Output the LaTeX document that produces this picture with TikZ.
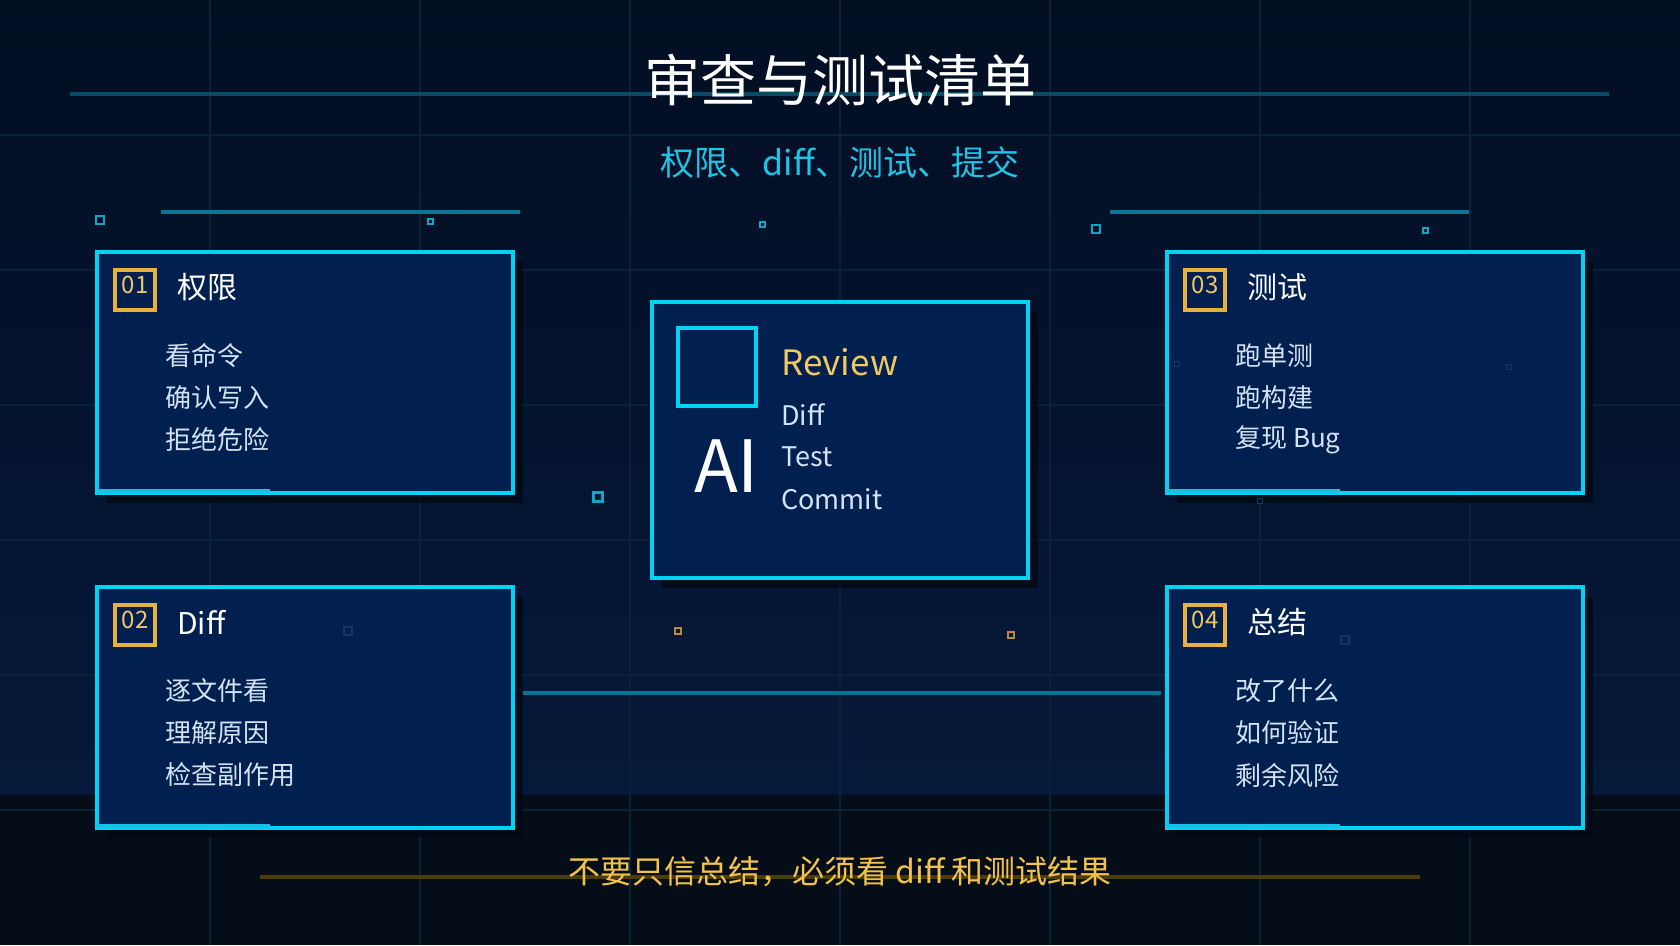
\documentclass[tikz,border=0pt]{standalone}
\usepackage{fontspec}
\setmainfont{Noto Sans CJK SC}
\usetikzlibrary{positioning,calc,shadows}

\definecolor{bgtop}{HTML}{020E22}
\definecolor{bgmid}{HTML}{05193A}
\definecolor{bgband}{HTML}{050E18}
\definecolor{gridc}{HTML}{0A2238}
\definecolor{cardfill}{HTML}{012050}
\definecolor{cardline}{HTML}{00D4F4}
\definecolor{accentc}{HTML}{16C2E4}
\definecolor{gold}{HTML}{E8B040}
\definecolor{goldtxt}{HTML}{F0C862}
\definecolor{itemc}{HTML}{D4E3F4}
\definecolor{subc}{HTML}{1EC4E6}
\definecolor{tline}{HTML}{0A4B64}
\definecolor{dline}{HTML}{0A7592}
\definecolor{fline}{HTML}{4B3C0A}
\definecolor{foot}{HTML}{F2C24C}
\definecolor{shade}{HTML}{010813}
\definecolor{sqc}{HTML}{12A6C6}
\definecolor{sqdim}{HTML}{17355F}

\tikzset{
  card/.style={draw=cardline, line width=3.5pt, fill=cardfill, inner sep=0pt, outer sep=0pt, anchor=north west,
    drop shadow={shadow xshift=10pt, shadow yshift=-10pt, fill=shade, opacity=0.75}},
  numbox/.style={draw=gold, line width=3.5pt, minimum size=40pt, inner sep=0pt, outer sep=0pt, anchor=north west},
  numtxt/.style={text=goldtxt, font=\fontsize{24}{28}\selectfont, inner sep=0pt, anchor=north},
  head/.style={text=white, font=\fontsize{30}{34}\selectfont, inner sep=0pt, anchor=west},
  item/.style={text=itemc, font=\fontsize{26}{30}\selectfont, inner sep=0pt, anchor=west},
  coreitem/.style={text=itemc, font=\fontsize{27}{30}\selectfont, inner sep=0pt, anchor=base west},
  dotsq/.style={draw=sqc, line width=2.5pt},
  dimsq/.style={draw=sqdim, line width=1.5pt},
  golddot/.style={draw=gold!80!black, line width=2pt}
}

\begin{document}
\begin{tikzpicture}[x=1pt,y=-1pt]
\useasboundingbox (0,0) rectangle (1680,945);
% background
\shade[top color=bgtop, bottom color=bgmid] (0,0) rectangle (1680,795);
\fill[bgband] (0,795) rectangle (1680,945);
\foreach \gx in {210,420,...,1470} { \draw[gridc, line width=1.2pt] (\gx,0) -- (\gx,945); }
\foreach \gy in {135,270,...,810} { \draw[gridc, line width=1.2pt] (0,\gy) -- (1680,\gy); }

% title
\draw[tline, line width=4pt] (70,94) -- (1609,94);
\node[text=white, font=\fontsize{56}{64}\selectfont, inner sep=0pt] (title) at (840,80) {审查与测试清单};
\node[text=subc, font=\fontsize{34}{40}\selectfont, inner sep=0pt] (subtitle) at (840,163) {权限、diff、测试、提交};

% deco lines and squares
\draw[dline, line width=4pt] (161,212) -- (520,212);
\draw[dline, line width=4pt] (1110,212) -- (1469,212);
\foreach \sx/\sy/\ss in {100/220/8, 1096/229/8, 598/497/9} { \draw[dotsq] ({\sx-\ss/2},{\sy-\ss/2}) rectangle ++(\ss,\ss); }
\foreach \sx/\sy/\ss in {430/221/5, 762/224/5, 1425/230/5} { \draw[dotsq, line width=2pt] ({\sx-\ss/2},{\sy-\ss/2}) rectangle ++(\ss,\ss); }
\foreach \sx/\sy in {678/631, 1011/635} { \draw[golddot] ({\sx-3},{\sy-3}) rectangle ++(6,6); }

% the four cards
\foreach \k/\cx/\cy/\num/\hd/\ia/\ib/\ic in {
  1/97/252/01/权限/看命令/确认写入/拒绝危险,
  2/97/587/02/Diff/逐文件看/理解原因/检查副作用,
  3/1167/252/03/测试/跑单测/跑构建/复现 Bug,
  4/1167/587/04/总结/改了什么/如何验证/剩余风险} {
  \node[card, minimum width=416pt, minimum height=241pt] (c\k) at (\cx,\cy) {};
  \fill[accentc] ($(c\k.south west)+(0,-4)$) rectangle ($(c\k.south west)+(173,0)$);
  \node[numbox] (n\k) at ($(c\k.north west)+(18,18)$) {};
  \node[numtxt] (t\k) at ($(n\k.north)+(0,6)$) {\num};
  \node[head] (h\k) at ($(n\k.east)+(22,-3)$) {\hd};
  \node[item] (a\k) at ($(c\k.north west)+(68,104)$) {\ia};
  \node[item] (b\k) at ($(c\k.north west)+(68,146)$) {\ib};
  \node[item] (e\k) at ($(c\k.north west)+(68,188)$) {\ic};
}
\foreach \sx/\sy/\ss in {348/631/8, 1345/640/8, 927/498/5, 1177/364/5, 1509/367/5, 1260/501/5} { \draw[dimsq] ({\sx-\ss/2},{\sy-\ss/2}) rectangle ++(\ss,\ss); }

% centre card
\node[card, line width=4pt, minimum width=376pt, minimum height=276pt] (core) at (652,302) {};
\node[draw=cardline, line width=3.5pt, minimum size=78pt, inner sep=0pt, outer sep=0pt, anchor=north west] (icon) at ($(core.north west)+(26,26)$) {};
\node[text=white, font=\fontsize{72}{80}\selectfont, inner sep=0pt, anchor=base west] (ai) at ($(core.north west)+(42,190)$) {AI};
\node[text=goldtxt, font=\fontsize{35}{40}\selectfont, inner sep=0pt, anchor=base west] (review) at ($(core.north west)+(129,73)$) {Review};
\node[coreitem] (cdiff) at ($(core.north west)+(129,123)$) {Diff};
\node[coreitem] (ctest) at ($(core.north west)+(129,164)$) {Test};
\node[coreitem] (ccommit) at ($(core.north west)+(129,207)$) {Commit};

% link between lower cards
\draw[dline, line width=4pt] ($(c2.east)+(10,-14.5)$) -- ($(c4.west)+(-6,-14.5)$);

% footer
\draw[fline, line width=4pt] (260,877) -- (1420,877);
\node[text=foot, font=\fontsize{32}{38}\selectfont, inner sep=0pt] (footer) at (840,872) {不要只信总结，必须看 diff 和测试结果};
\end{tikzpicture}
\end{document}
